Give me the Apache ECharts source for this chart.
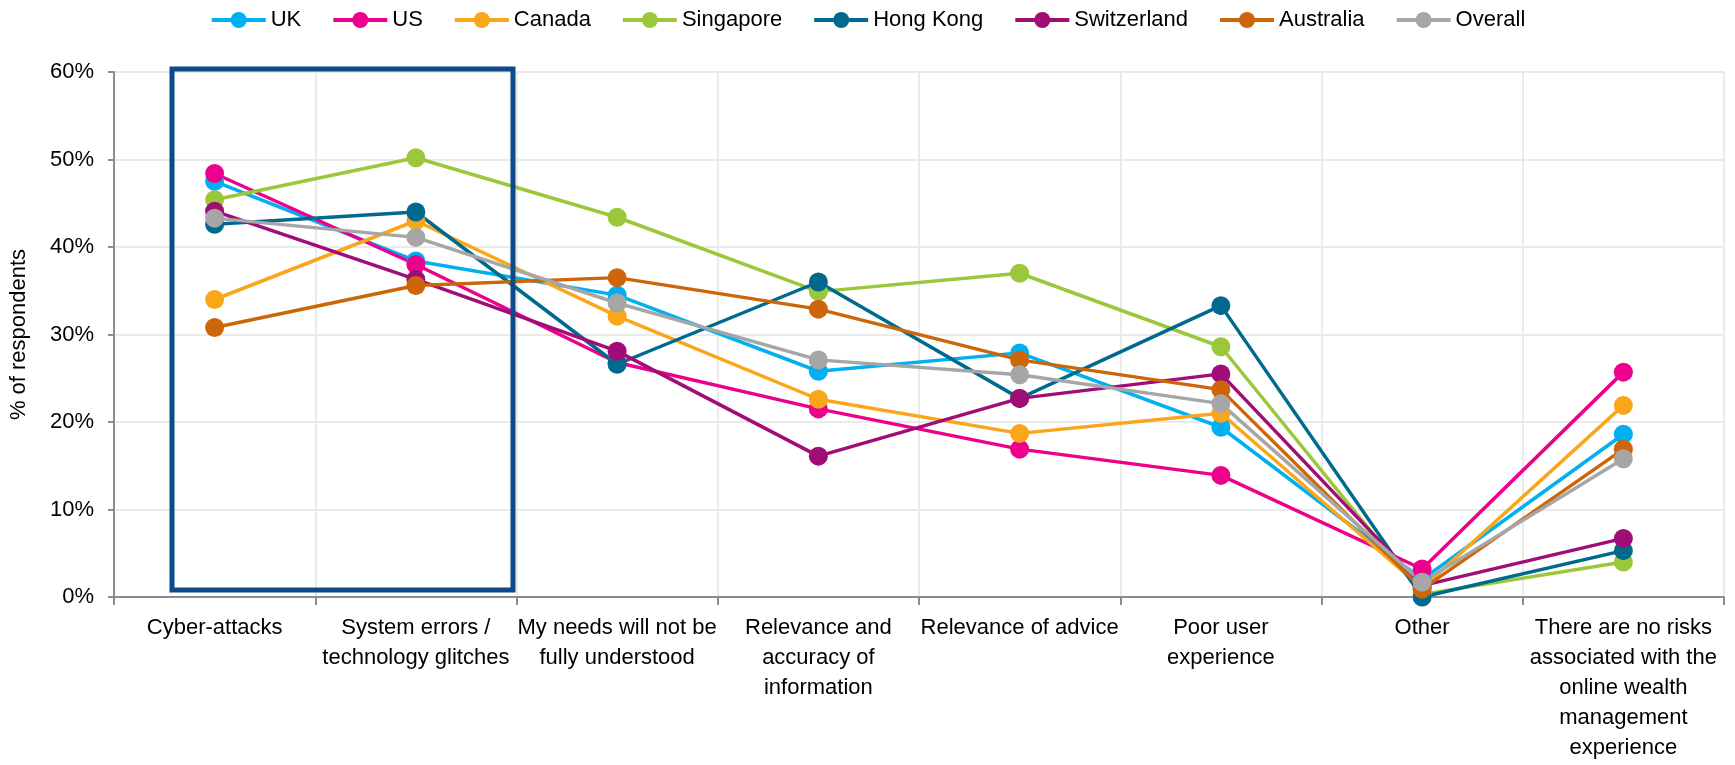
<!DOCTYPE html>
<html>
<head>
<meta charset="utf-8">
<script src="https://cdn.jsdelivr.net/npm/echarts@6/dist/echarts.min.js"></script>
<style>html,body{margin:0;padding:0;background:#fff}#c{width:1735px;height:765px}</style>
</head>
<body>
<div id="c"></div>
<script>
const categories = [
  "Cyber-attacks",
  "System errors /\ntechnology glitches",
  "My needs will not be\nfully understood",
  "Relevance and\naccuracy of\ninformation",
  "Relevance of advice",
  "Poor user\nexperience",
  "Other",
  "There are no risks\nassociated with the\nonline wealth\nmanagement\nexperience"
];
const seriesNames = ["UK","US","Canada","Singapore","Hong Kong","Switzerland","Australia","Overall"];
const UK          = [47.5, 38.4, 34.5, 25.8, 27.9, 19.4, 2.0, 18.6];
const US          = [48.4, 38.0, 26.8, 21.5, 16.9, 13.9, 3.2, 25.7];
const Canada      = [34.0, 43.0, 32.1, 22.6, 18.7, 21.0, 1.0, 21.9];
const Singapore   = [45.4, 50.2, 43.4, 34.9, 37.0, 28.6, 0.3, 4.0];
const HongKong    = [42.6, 44.0, 26.6, 36.0, 22.7, 33.3, 0.0, 5.3];
const Switzerland = [44.1, 36.3, 28.1, 16.1, 22.7, 25.5, 1.3, 6.7];
const Australia   = [30.8, 35.6, 36.5, 32.9, 27.1, 23.7, 0.9, 16.9];
const Overall     = [43.3, 41.1, 33.6, 27.1, 25.4, 22.1, 1.7, 15.8];
const yTicks = [0, 10, 20, 30, 40, 50, 60];

const values = [UK, US, Canada, Singapore, HongKong, Switzerland, Australia, Overall];
const colors = ["#00B0F0","#EC008C","#FAA61A","#9BC83B","#006A8E","#A10D76","#CC6609","#A6A6A6"];
const FONT = '"Liberation Sans",Arial,sans-serif';

const chart = echarts.init(document.getElementById('c'), null, {renderer: 'canvas'});
chart.setOption({
  animation: false,
  color: colors,
  textStyle: {fontFamily: FONT},
  legend: {
    top: 4, left: 'center',
    itemWidth: 54, itemHeight: 20, itemGap: 30,
    lineStyle: {width: 4},
    textStyle: {fontFamily: FONT, fontSize: 22, color: '#000'},
    data: seriesNames
  },
  grid: {left: 110, right: 11, top: 72, bottom: 168, containLabel: false},
  xAxis: {
    type: 'category',
    data: categories,
    boundaryGap: true,
    axisLine: {lineStyle: {color: '#8C8C8C', width: 2}},
    axisTick: {show: true, length: 8, lineStyle: {color: '#8C8C8C', width: 2}},
    splitLine: {show: true, lineStyle: {color: '#EAEAEA', width: 2}},
    axisLabel: {fontFamily: FONT, fontSize: 22, color: '#000', lineHeight: 30, margin: 16, interval: 0}
  },
  yAxis: {
    type: 'value',
    min: yTicks[0], max: yTicks[yTicks.length-1], interval: 10,
    name: '% of respondents',
    nameLocation: 'middle', nameGap: 84, nameRotate: 90,
    nameTextStyle: {fontFamily: FONT, fontSize: 22, color: '#000'},
    axisLine: {show: true, lineStyle: {color: '#8C8C8C', width: 2}},
    axisTick: {show: true, length: 6, lineStyle: {color: '#8C8C8C', width: 2}},
    splitLine: {show: true, lineStyle: {color: '#EAEAEA', width: 2}},
    axisLabel: {fontFamily: FONT, fontSize: 22, color: '#000', margin: 20, formatter: '{value}%'}
  },
  graphic: [{
    type: 'rect', z: 100,
    shape: {x: 172, y: 69, width: 341, height: 521},
    style: {fill: 'none', stroke: '#0D4A8A', lineWidth: 5}
  }],
  series: seriesNames.map((n, i) => ({
    name: n, type: 'line', data: values[i],
    symbol: 'circle', symbolSize: 19, showSymbol: true,
    lineStyle: {width: 3.5, color: colors[i]},
    itemStyle: {color: colors[i]},
    emphasis: {disabled: true}
  }))
});
</script>
</body>
</html>
